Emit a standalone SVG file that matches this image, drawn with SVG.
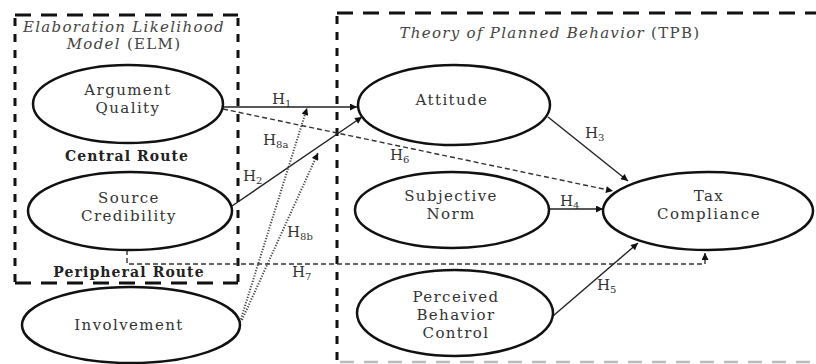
<svg xmlns="http://www.w3.org/2000/svg" width="816" height="364" viewBox="0 0 816 364">
<style>
.node ellipse{fill:#fff;stroke:#111;stroke-width:2.5}
.lbl{font-family:"DejaVu Serif","Liberation Serif",serif;font-size:15px;letter-spacing:1.4px;fill:#333;text-anchor:middle}
.ttl{font-family:"DejaVu Serif","Liberation Serif",serif;font-size:15px;letter-spacing:1.3px;fill:#444;text-anchor:middle}
.route{font-family:"DejaVu Serif","Liberation Serif",serif;font-size:14px;letter-spacing:1.1px;font-weight:bold;fill:#222;text-anchor:middle}
.h{font-family:"DejaVu Serif","Liberation Serif",serif;font-size:15px;fill:#333}
.sub{font-size:10px}
.solid{stroke:#222;stroke-width:1.4;fill:none}
.dash{stroke:#333;stroke-width:1.4;fill:none;stroke-dasharray:5 3}
.dot{stroke:#444;stroke-width:2;fill:none;stroke-dasharray:1.2 1.6}
.boxh{stroke:#111;stroke-width:3;stroke-dasharray:16 10;fill:none}
.boxv{stroke:#111;stroke-width:3;stroke-dasharray:8 8;fill:none}
</style>
<defs>
<marker id="arr" viewBox="0 0 10 10" refX="10" refY="5" markerWidth="8" markerHeight="7" markerUnits="userSpaceOnUse" orient="auto"><path d="M0,0 L10,5 L0,10 z" fill="#111"/></marker>
</defs>
<rect width="816" height="364" fill="#fff"/>
<g id="boxes">
<line class="boxh" x1="15" y1="15" x2="238" y2="15"/>
<line class="boxh" x1="15" y1="283" x2="238" y2="283"/>
<line class="boxv" x1="15" y1="18" x2="15" y2="283"/>
<line class="boxv" x1="238" y1="18" x2="238" y2="283"/>
<line class="boxh" x1="337" y1="13" x2="816" y2="13"/>
<line class="boxv" x1="337" y1="16" x2="337" y2="364"/>
<line x1="340" y1="362" x2="816" y2="362" stroke="#bbb" stroke-width="2.5" stroke-dasharray="14 10"/>
</g>
<g id="titles">
<text class="ttl" x="124" y="32" font-style="italic">Elaboration Likelihood</text>
<text class="ttl" x="124" y="49"><tspan font-style="italic">Model</tspan> (ELM)</text>
<text class="ttl" x="550" y="38"><tspan font-style="italic">Theory of Planned Behavior</tspan> (TPB)</text>
<text class="route" x="127" y="161">Central Route</text>
<text class="route" x="129" y="277">Peripheral Route</text>
</g>
<g id="connectors">
<line class="solid" x1="222" y1="107" x2="357" y2="107" marker-end="url(#arr)"/>
<line class="dash" x1="223" y1="109" x2="613" y2="191" marker-end="url(#arr)"/>
<line class="solid" x1="232" y1="206" x2="362" y2="117" marker-end="url(#arr)"/>
<line class="dot" x1="240" y1="322" x2="307" y2="108" marker-end="url(#arr)"/>
<line class="dot" x1="242" y1="320" x2="318" y2="153" marker-end="url(#arr)"/>
<polyline class="dash" points="127,250 127,264 705,264 705,253" marker-end="url(#arr)"/>
<line class="solid" x1="548" y1="117" x2="628" y2="181" marker-end="url(#arr)"/>
<line class="solid" x1="548" y1="209" x2="603" y2="209" marker-end="url(#arr)"/>
<line class="solid" x1="553" y1="316" x2="638" y2="243" marker-end="url(#arr)"/>
<text class="h" x="272" y="104">H<tspan class="sub" dy="3">1</tspan></text>
<text class="h" x="263" y="145">H<tspan class="sub" dy="3">8a</tspan></text>
<text class="h" x="390" y="160">H<tspan class="sub" dy="3">6</tspan></text>
<text class="h" x="243" y="181">H<tspan class="sub" dy="3">2</tspan></text>
<text class="h" x="287" y="237">H<tspan class="sub" dy="3">8b</tspan></text>
<text class="h" x="292" y="277">H<tspan class="sub" dy="3">7</tspan></text>
<text class="h" x="585" y="138">H<tspan class="sub" dy="3">3</tspan></text>
<text class="h" x="560" y="206">H<tspan class="sub" dy="3">4</tspan></text>
<text class="h" x="597" y="290">H<tspan class="sub" dy="3">5</tspan></text>
</g>
<g id="argument-quality" class="node">
<ellipse cx="128" cy="104" rx="95" ry="39"/>
<text class="lbl" x="128" y="95">Argument</text>
<text class="lbl" x="128" y="113">Quality</text>
</g>
<g id="source-credibility" class="node">
<ellipse cx="130" cy="211" rx="102" ry="39"/>
<text class="lbl" x="129" y="203">Source</text>
<text class="lbl" x="129" y="221">Credibility</text>
</g>
<g id="involvement" class="node">
<ellipse cx="131" cy="325" rx="109" ry="38"/>
<text class="lbl" x="129" y="330">Involvement</text>
</g>
<g id="attitude" class="node">
<ellipse cx="454" cy="105" rx="96" ry="40"/>
<text class="lbl" x="452" y="105">Attitude</text>
</g>
<g id="subjective-norm" class="node">
<ellipse cx="452" cy="210" rx="97" ry="38"/>
<text class="lbl" x="451" y="201">Subjective</text>
<text class="lbl" x="451" y="219">Norm</text>
</g>
<g id="tax-compliance" class="node">
<ellipse cx="708" cy="211" rx="105" ry="39"/>
<text class="lbl" x="709" y="201">Tax</text>
<text class="lbl" x="709" y="219">Compliance</text>
</g>
<g id="perceived-behavior-control" class="node">
<ellipse cx="455" cy="313" rx="98" ry="43"/>
<text class="lbl" x="456" y="302">Perceived</text>
<text class="lbl" x="456" y="320">Behavior</text>
<text class="lbl" x="456" y="338">Control</text>
</g>
</svg>
